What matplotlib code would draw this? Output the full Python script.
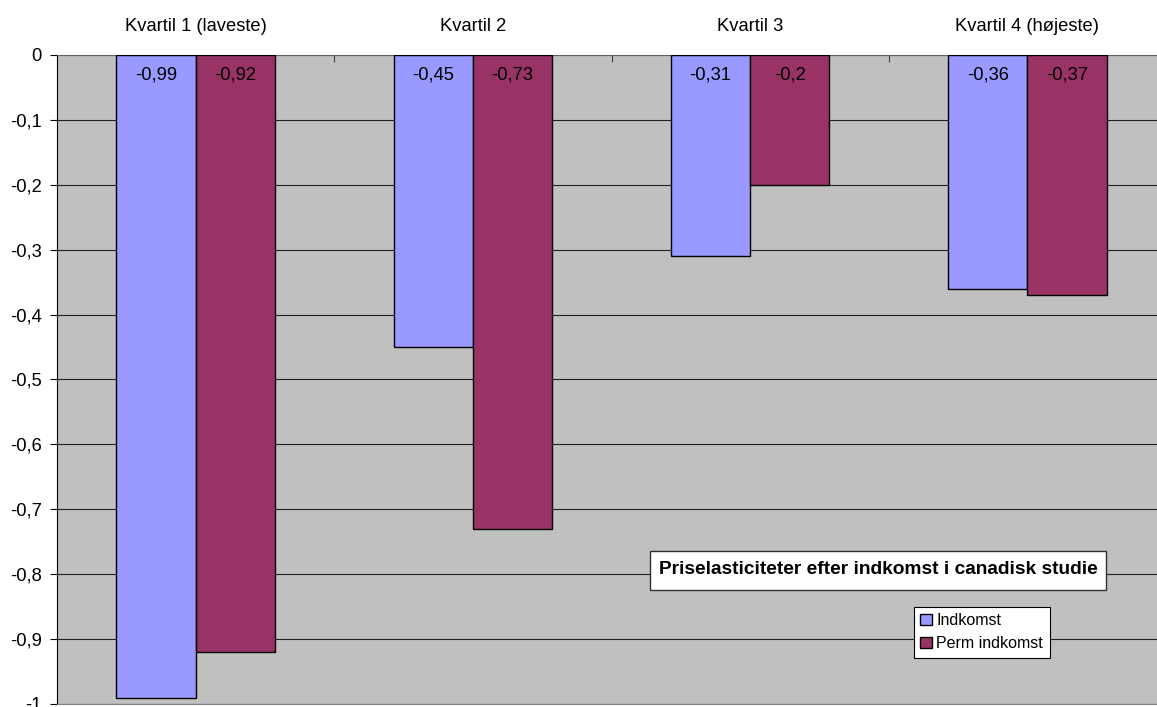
import matplotlib
matplotlib.use("Agg")
import matplotlib.pyplot as plt
from matplotlib.patches import Rectangle
import numpy as np

plt.rcParams['font.family'] = ['Liberation Sans', 'DejaVu Sans']

categories = ["Kvartil 1 (laveste)", "Kvartil 2", "Kvartil 3", "Kvartil 4 (højeste)"]
indkomst = [-0.99, -0.45, -0.31, -0.36]
perm_indkomst = [-0.92, -0.73, -0.2, -0.37]
series_names = ["Indkomst", "Perm indkomst"]
title = "Priselasticiteter efter indkomst i canadisk studie"

W, H = 1157, 707
fig = plt.figure(figsize=(W / 100, H / 100), dpi=100)
left, right, top, bottom = 57, 1166, 55, 704
ax = fig.add_axes([left / W, 1 - bottom / H, (right - left) / W, (bottom - top) / H])
ax.set_facecolor('#C0C0C0')

x = np.arange(len(categories)) + 0.5
w = 1 / 3.5
ax.bar(x - w / 2, indkomst, w, color='#9999FF', edgecolor='black', linewidth=1,
       label=series_names[0], zorder=3)
ax.bar(x + w / 2, perm_indkomst, w, color='#993366', edgecolor='black', linewidth=1,
       label=series_names[1], zorder=3)

fs = 13.2
for xs, vals in [(x - w / 2, indkomst), (x + w / 2, perm_indkomst)]:
    for xi, v in zip(xs, vals):
        ax.text(xi, -0.031, f"{v:g}".replace('.', ','), ha='center', va='center',
                fontsize=fs, zorder=4)

ax.set_xlim(0, 4)
ax.set_ylim(-1, 0)
yt = np.round(np.arange(-1, 0.01, 0.1), 1)
ax.set_yticks(yt)
ax.set_yticklabels([f"{v:g}".replace('.', ',') if v != 0 else "0" for v in yt], fontsize=fs)
ax.yaxis.grid(True, color='#202020', linewidth=0.8, zorder=0)
ax.tick_params(axis='y', length=5, width=0.8, direction='out', pad=6)

# category boundaries as ticks on top axis, labels above
ax.xaxis.tick_top()
ax.set_xticks([1, 2, 3, 4])
ax.set_xticklabels([])
ax.tick_params(axis='x', length=5, width=0.8, direction='in', colors='#404040')
for xi, c in zip(x, categories):
    ax.text(xi, 1 + 28 / (bottom - top), c, transform=ax.get_xaxis_transform(),
            ha='center', va='center', fontsize=fs)

ax.spines['right'].set_visible(False)
ax.spines['top'].set_color('#606060')
ax.spines['left'].set_color('black')
ax.spines['bottom'].set_color('#808080')

# title box
fig.patches.append(Rectangle((650 / W, 1 - 590 / H), 456 / W, 39 / H, transform=fig.transFigure,
                             facecolor='white', edgecolor='#303030', linewidth=1, zorder=5))
fig.text(878 / W, 1 - 570 / H, title, ha='center', va='center', fontsize=13.8,
         fontweight='bold', zorder=6)

leg = ax.legend(loc='upper left', bbox_to_anchor=(914 / W, 1 - 607 / H), bbox_transform=fig.transFigure,
                frameon=True, fancybox=False, edgecolor='black', framealpha=1, fontsize=11.5,
                handlelength=0.7, handleheight=0.7, handletextpad=0.3, borderpad=0.4,
                borderaxespad=0, labelspacing=0.5)
leg.get_frame().set_linewidth(0.8)

fig.savefig("out.png", dpi=100)
